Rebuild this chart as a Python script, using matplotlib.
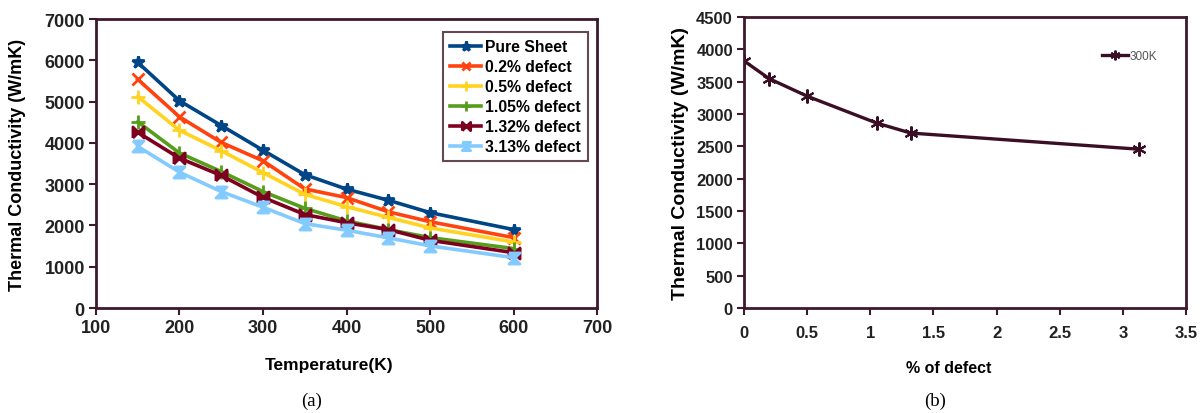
import matplotlib.pyplot as plt
from matplotlib.ticker import FuncFormatter

plt.rcParams['font.family'] = ['Liberation Sans', 'DejaVu Sans']

# panel (a): thermal conductivity vs temperature
temperature = [150, 200, 250, 300, 350, 400, 450, 500, 600]
pure_sheet = [5950, 5020, 4420, 3820, 3230, 2880, 2610, 2310, 1900]
defect_02 = [5540, 4630, 4010, 3565, 2885, 2675, 2330, 2090, 1705]
defect_05 = [5120, 4305, 3810, 3280, 2755, 2455, 2195, 1940, 1600]
defect_105 = [4510, 3755, 3305, 2820, 2415, 2110, 1900, 1705, 1440]
defect_132 = [4255, 3630, 3210, 2680, 2265, 2065, 1900, 1640, 1340]
defect_313 = [3915, 3290, 2820, 2440, 2045, 1885, 1700, 1505, 1220]

# panel (b): conductivity at 300K vs defect percentage
defect_pct = [0, 0.2, 0.5, 1.05, 1.32, 3.13]
k_300 = [3820, 3545, 3275, 2860, 2705, 2455]

frame_col = '#3d1a2c'
bowtie = [(-1, -1), (-1, 1), (1, -1), (1, 1), (-1, -1)]
hourglass = [(-1, 1), (1, 1), (-1, -1), (1, -1), (-1, 1)]

series = [
    (pure_sheet, 'Pure Sheet', '#004586', '*', 9),
    (defect_02, '0.2% defect', '#ff420e', 'x', 8),
    (defect_05, '0.5% defect', '#ffd320', '+', 10),
    (defect_105, '1.05% defect', '#579d1c', '+', 10),
    (defect_132, '1.32% defect', '#7e0021', bowtie, 8),
    (defect_313, '3.13% defect', '#83caff', hourglass, 8),
]

fig = plt.figure(figsize=(12.04, 4.14), dpi=100)
ax1 = fig.add_axes([0.0797, 0.2536, 0.4163, 0.698])
ax2 = fig.add_axes([0.618, 0.2536, 0.367, 0.703])

for vals, lab, col, mk, ms in series:
    ax1.plot(temperature, vals, color=col, lw=2.6, marker=mk, ms=ms,
             mew=2, label=lab)

ax1.set_xlim(100, 700)
ax1.set_ylim(0, 7000)
ax1.set_xticks(range(100, 701, 100))
ax1.set_yticks(range(0, 7001, 1000))
ax1.set_xlabel('Temperature(K)', fontsize=12.5, fontweight='bold', va='center')
ax1.xaxis.set_label_coords(0.465, -0.197)
ax1.set_ylabel('Thermal Conductivity (W/mK)', fontsize=13, fontweight='bold', va='center')
ax1.yaxis.set_label_coords(-0.156, 0.5)
leg = ax1.legend(loc='upper right', bbox_to_anchor=(0.982, 0.955),
                 prop={'weight': 'bold', 'size': 11.3}, frameon=True, fancybox=False,
                 handlelength=2.0, handletextpad=0.25, labelspacing=0.32,
                 borderpad=0.45, borderaxespad=0, markerscale=0.75)
leg.get_frame().set_edgecolor(frame_col)
leg.get_frame().set_linewidth(1.5)

ax2.plot(defect_pct, k_300, color='#3a0f26', lw=2.4, marker=(6, 2, 0), ms=10,
         mew=1.5, label='300K')
ax2.set_xlim(0, 3.5)
ax2.set_ylim(0, 4500)
ax2.set_xticks([0, 0.5, 1, 1.5, 2, 2.5, 3, 3.5])
ax2.set_yticks(range(0, 4501, 500))
ax2.xaxis.set_major_formatter(FuncFormatter(lambda v, p: f'{v:g}'))
ax2.set_xlabel('% of defect', fontsize=11.5, fontweight='bold', va='center')
ax2.xaxis.set_label_coords(0.464, -0.206)
ax2.set_ylabel('Thermal Conductivity (W/mK)', fontsize=14, fontweight='bold', va='center')
ax2.yaxis.set_label_coords(-0.145, 0.5)
ax2.legend(loc='center left', bbox_to_anchor=(0.8, 0.865), frameon=False,
           prop={'size': 8.5}, labelcolor='#555555',
           handlelength=2.2, handletextpad=0.1, markerscale=0.7, borderaxespad=0)

for ax, fs, xpad in ((ax1, 13, 3), (ax2, 12, 7)):
    for sp in ax.spines.values():
        sp.set_color(frame_col)
        sp.set_linewidth(2)
    ax.tick_params(axis='both', colors=frame_col, width=1.5, length=5, pad=3,
                   labelsize=fs, labelcolor='#222222')
    ax.tick_params(axis='x', pad=xpad)
    ax.tick_params(top=False, right=False)
    for t in ax.get_xticklabels() + ax.get_yticklabels():
        t.set_fontweight('bold')

fig.text(312 / 1204, 1 - 401 / 414, '(a)', family='Liberation Serif', fontsize=13.5,
         ha='center', va='center')
fig.text(935 / 1204, 1 - 401 / 414, '(b)', family='Liberation Serif', fontsize=13.5,
         ha='center', va='center')

fig.savefig('out.png', dpi=100)
